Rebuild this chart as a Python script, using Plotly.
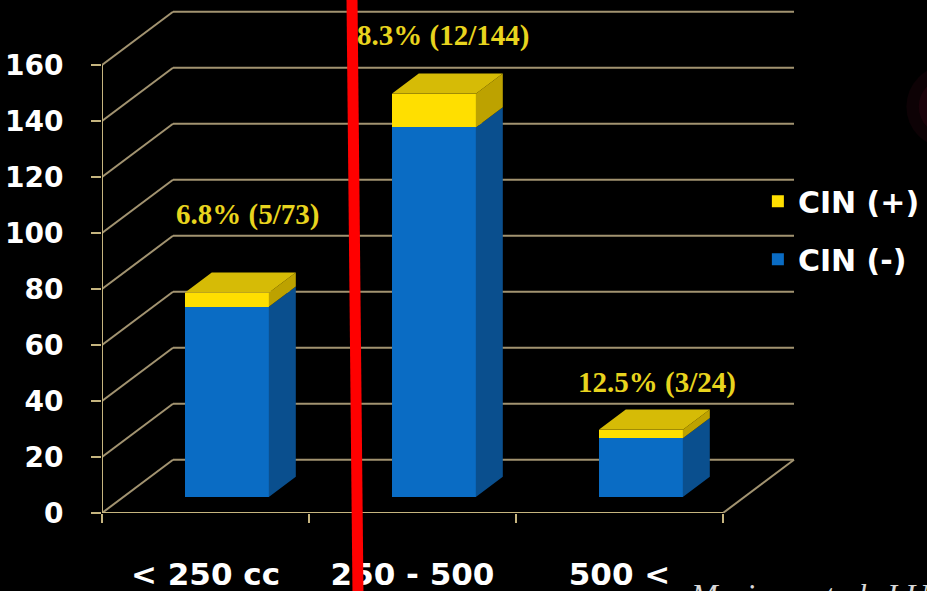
import plotly.graph_objects as go

# ---------------- data ----------------
categories = ["< 250 cc", "250 - 500", "500 <"]
cin_neg = [68, 132, 21]     # CIN (-)
cin_pos = [5, 12, 3]        # CIN (+)
y_ticks = [0, 20, 40, 60, 80, 100, 120, 140, 160]

# ---------------- style / geometry ----------------
BG = "black"
GRID = "#a29370"
AXIS = "#c6b57f"
BLUE_F, BLUE_S = "#0a6cc4", "#0a4f8e"
YEL_F, YEL_S, YEL_T = "#ffdf00", "#bda200", "#d6bb06"
LBL = "#e8d41e"

DX, DY = 0.343, 19.0          # depth of the 3-D box (x units, y units)
F0, F1 = 0.30, 0.68           # bar depth start / end fractions
BAR_W = 0.406
bx0, by0 = F0 * DX, F0 * DY   # front-face shift of bars
ddx, ddy = (F1 - F0) * DX, (F1 - F0) * DY

n = len(categories)
xs = list(range(n))
XMIN, XMAX = -0.5, n - 0.5

fig = go.Figure()

neg_top = [by0 + v for v in cin_neg]
pos_top = [by0 + a + b for a, b in zip(cin_neg, cin_pos)]

# front faces (bars) - CIN (+) first so it heads the legend
fig.add_trace(go.Bar(
    x=xs, y=cin_pos, base=neg_top, width=BAR_W, offset=bx0 - BAR_W / 2,
    marker=dict(color=YEL_F, line=dict(width=0)), name="CIN (+)",
    legendgroup="pos", hoverinfo="skip"))
fig.add_trace(go.Bar(
    x=xs, y=cin_neg, base=[by0] * n, width=BAR_W, offset=bx0 - BAR_W / 2,
    marker=dict(color=BLUE_F, line=dict(width=0)), name="CIN (-)",
    legendgroup="neg", hoverinfo="skip"))


def side_polys(bottoms, tops):
    px, py = [], []
    for i, (b, t) in enumerate(zip(bottoms, tops)):
        xr = i + bx0 + BAR_W / 2
        px += [xr, xr + ddx, xr + ddx, xr, xr, None]
        py += [b, b + ddy, t + ddy, t, b, None]
    return px, py


def top_polys(tops):
    px, py = [], []
    for i, t in enumerate(tops):
        xl = i + bx0 - BAR_W / 2
        xr = i + bx0 + BAR_W / 2
        px += [xl, xl + ddx, xr + ddx, xr, xl, None]
        py += [t, t + ddy, t + ddy, t, t, None]
    return px, py


for (px, py), col in [
    (side_polys([by0] * n, neg_top), BLUE_S),
    (side_polys(neg_top, pos_top), YEL_S),
    (top_polys(pos_top), YEL_T),
]:
    fig.add_trace(go.Scatter(x=px, y=py, mode="lines", fill="toself",
                             fillcolor=col, line=dict(width=0, color=col),
                             showlegend=False, hoverinfo="skip"))

# ---------------- walls / grid ----------------
shapes = []
for v in y_ticks:
    shapes.append(dict(type="line", xref="x", yref="y", x0=XMIN, y0=v,
                       x1=XMIN + DX, y1=v + DY, layer="below",
                       line=dict(color=GRID, width=2)))
    shapes.append(dict(type="line", xref="x", yref="y", x0=XMIN + DX, y0=v + DY,
                       x1=XMAX + DX, y1=v + DY, layer="below",
                       line=dict(color=GRID, width=2)))
shapes.append(dict(type="line", xref="x", yref="y", x0=XMAX, y0=0,
                   x1=XMAX + DX, y1=DY, layer="below",
                   line=dict(color=GRID, width=2)))
shapes.append(dict(type="line", xref="x", yref="y", x0=XMIN, y0=0,
                   x1=XMAX, y1=0, layer="below", line=dict(color=AXIS, width=2)))
shapes.append(dict(type="line", xref="x", yref="y", x0=XMIN, y0=0,
                   x1=XMIN, y1=y_ticks[-1], layer="below",
                   line=dict(color=AXIS, width=2)))
# red marker line drawn over the slide
shapes.append(dict(type="line", xref="x", yref="paper", x0=0.7377, y0=-0.2,
                   x1=0.7068, y1=1.05, layer="above",
                   line=dict(color="#ff0000", width=11)))
# faint glow at the right edge
for r, a in [(0.05, 0.10), (0.035, 0.12), (0.02, 0.14)]:
    shapes.append(dict(type="circle", xref="paper", yref="paper",
                       x0=1.025 - r, x1=1.025 + r,
                       y0=0.80 - r * 825 / 508, y1=0.80 + r * 825 / 508,
                       layer="below", fillcolor=f"rgba(130,20,50,{a})",
                       line=dict(width=0)))

# ---------------- annotations ----------------
label_dy = [28, 21, 17]
label_dx = [0.205, 0.145, 0.18]
annotations = []
for i in range(n):
    tot = cin_neg[i] + cin_pos[i]
    txt = f"<b>{100 * cin_pos[i] / tot:.1f}% ({cin_pos[i]}/{tot})</b>"
    annotations.append(dict(
        x=i + label_dx[i], y=pos_top[i] + label_dy[i], xref="x", yref="y",
        text=txt, showarrow=False, xanchor="center", yanchor="middle",
        font=dict(family="Liberation Serif", size=29, color=LBL)))
annotations.append(dict(
    x=0.71, y=-0.123, xref="paper", yref="paper", xanchor="left", yanchor="top",
    text="<i>Mariano et al. J Urol</i>", showarrow=False,
    font=dict(family="Liberation Serif", size=32, color="#d8d8d8")))

fig.update_layout(
    width=927, height=591,
    margin=dict(l=102, r=0, t=5, b=78),
    paper_bgcolor=BG, plot_bgcolor=BG,
    barmode="overlay", bargap=0,
    shapes=shapes, annotations=annotations,
    showlegend=True,
    legend=dict(x=0.795, y=0.665, xanchor="left", yanchor="top",
                traceorder="grouped", tracegroupgap=16,
                bgcolor="rgba(0,0,0,0)",
                font=dict(family="DejaVu Sans", size=30, color="white",
                          weight="bold")),
    xaxis=dict(range=[XMIN, XMIN + 825 / 207], tickvals=xs, ticktext=categories,
               showgrid=False, zeroline=False, showline=False, ticks="",
               ticklabelstandoff=40,
               tickfont=dict(family="DejaVu Sans", size=31, color="white",
                             weight="bold"),
               minor=dict(tickvals=[x - 0.5 for x in range(n + 1)],
                          ticks="outside", ticklen=9, tickwidth=2,
                          tickcolor=AXIS, showgrid=False),
               fixedrange=True),
    yaxis=dict(range=[0, 508 / 2.8], tickvals=y_ticks, showgrid=False,
               zeroline=False, showline=False, ticks="outside", ticklen=10,
               tickwidth=2, tickcolor=AXIS, ticklabelstandoff=22,
               tickfont=dict(family="DejaVu Sans", size=28, color="white",
                             weight="bold"),
               fixedrange=True),
)

fig.write_html("out.html")
